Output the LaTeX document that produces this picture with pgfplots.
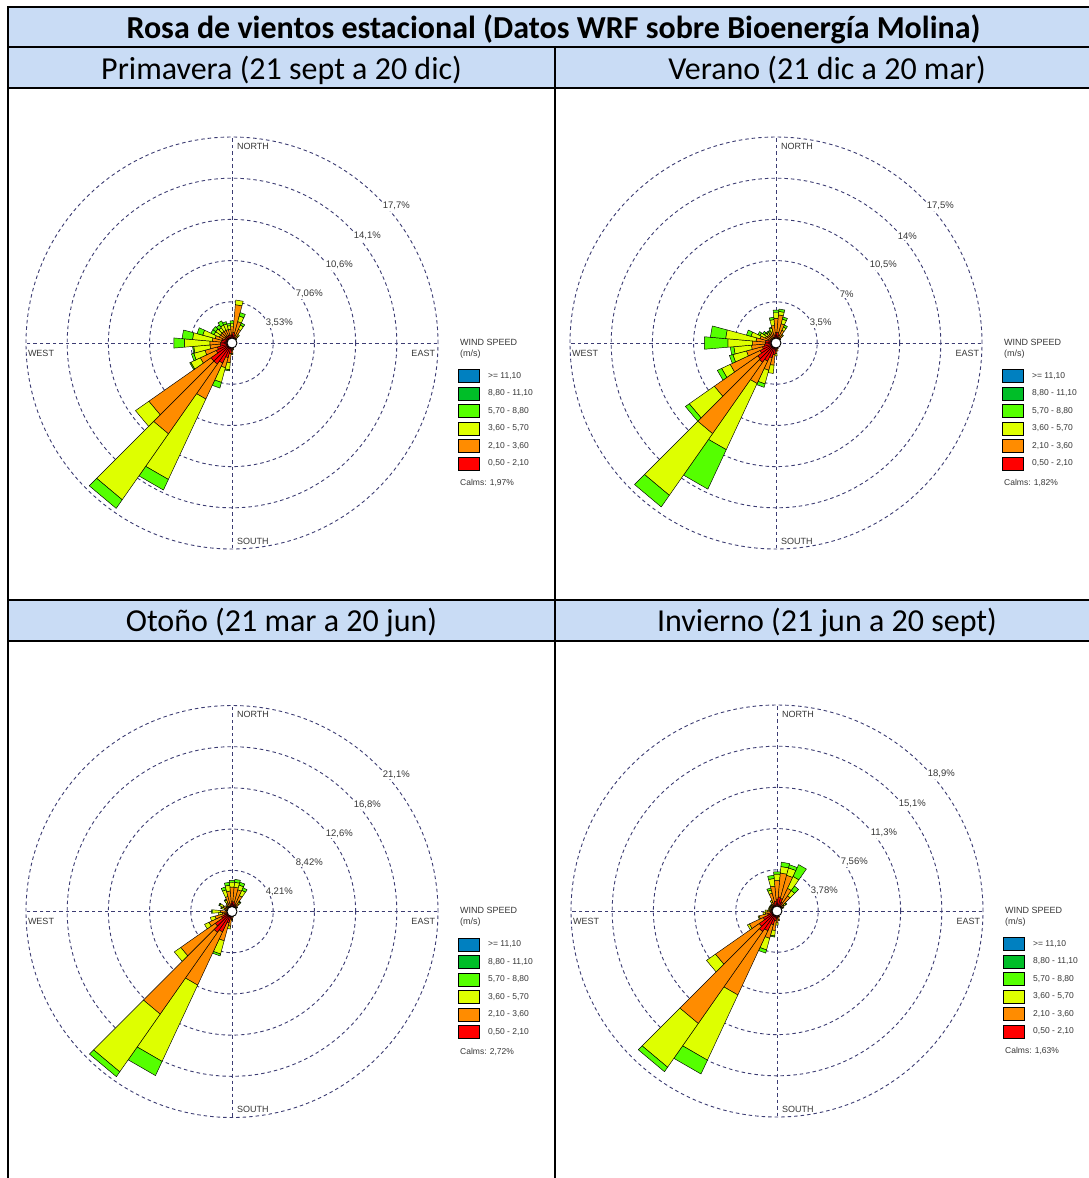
\documentclass[border=0pt]{standalone}
\usepackage{fontspec}
\setmainfont{Carlito}
\newfontfamily\arial{Liberation Sans}
\usepackage{pgfplots}
\usepackage{pgfplotstable}
\pgfplotsset{compat=1.18}
\usepgfplotslibrary{polar}

\definecolor{hdr}{RGB}{201,220,245}
\definecolor{gridc}{RGB}{60,60,115}
\definecolor{cRed}{RGB}{255,0,0}
\definecolor{cOra}{RGB}{255,140,0}
\definecolor{cYel}{RGB}{222,255,0}
\definecolor{cLGr}{RGB}{85,255,0}
\definecolor{cDGr}{RGB}{0,190,40}
\definecolor{cBlu}{RGB}{0,128,192}
\definecolor{txt}{RGB}{55,55,55}

% columns: direction (deg from north), cumulative % at end of 0.5-2.1, 2.1-3.6, 3.6-5.7, 5.7-8.8 m/s
\pgfplotstableread{
d r o y g
0 0.7 1.4 1.7 1.9
10 0.9 3.3 3.7 3.7
20 0.7 1.9 2.4 2.7
30 0.5 1.3 1.7 1.9
40 0.3 0.7 0.9 0.9
50 0.3 0.4 0.5 0.5
60 0.3 0.4 0.4 0.4
70 0.3 0.35 0.35 0.35
80 0.3 0.35 0.35 0.35
90 0.3 0.35 0.35 0.35
100 0.3 0.35 0.35 0.35
110 0.3 0.35 0.35 0.35
120 0.3 0.35 0.35 0.35
130 0.3 0.35 0.35 0.35
140 0.3 0.35 0.35 0.35
150 0.3 0.35 0.35 0.35
160 0.3 0.4 0.4 0.4
170 0.3 0.5 0.6 0.6
180 0.5 0.9 1.0 1.0
190 0.9 1.7 2.3 2.4
200 1.3 2.2 3.5 4.0
210 1.9 5.3 12.9 13.9
220 2.2 9.5 16.4 17.3
230 2.2 8.7 10.1 10.1
240 1.5 3.0 3.9 4.0
250 1.3 2.4 3.4 3.6
260 1.0 1.9 3.3 3.4
270 1.0 1.9 4.1 5.0
280 0.9 1.7 3.4 4.3
290 0.9 1.5 2.6 3.1
300 0.7 1.2 1.7 2.0
310 0.7 1.2 1.7 2.0
320 0.7 1.2 1.6 1.9
330 0.7 1.2 1.7 2.1
340 0.7 1.2 1.7 1.9
350 0.7 1.2 1.5 1.7
}\tabA

\pgfplotstableread{
d r o y g
0 0.9 2.1 2.6 2.8
10 0.9 2.4 2.7 2.9
20 0.7 1.7 2.1 2.3
30 0.5 1.2 1.5 1.7
40 0.4 0.8 0.9 0.9
50 0.3 0.4 0.5 0.5
60 0.3 0.35 0.35 0.35
70 0.3 0.35 0.35 0.35
80 0.3 0.35 0.35 0.35
90 0.3 0.35 0.35 0.35
100 0.3 0.35 0.35 0.35
110 0.3 0.35 0.35 0.35
120 0.3 0.35 0.35 0.35
130 0.3 0.35 0.35 0.35
140 0.3 0.35 0.35 0.35
150 0.3 0.35 0.35 0.35
160 0.3 0.5 0.5 0.5
170 0.4 0.7 0.7 0.7
180 0.5 0.9 1.1 1.1
190 1.0 1.9 2.6 2.6
200 1.3 2.4 3.6 3.9
210 1.7 3.8 10.0 13.7
220 2.0 9.4 15.8 17.0
230 1.9 6.4 9.0 9.4
240 1.5 4.3 5.1 5.5
250 1.2 2.6 3.8 4.1
260 1.0 2.1 3.6 3.9
270 0.9 2.0 4.1 6.1
280 0.9 1.7 4.3 5.6
290 0.7 1.4 2.2 2.6
300 0.5 1.0 1.5 1.7
310 0.4 0.9 1.2 1.4
320 0.4 0.9 1.1 1.2
330 0.4 0.9 1.1 1.2
340 0.5 1.0 1.3 1.4
350 0.7 1.5 2.0 2.2
}\tabB

\pgfplotstableread{
d r o y g
0 1.0 2.5 3.0 3.2
10 1.0 2.5 3.0 3.3
20 0.8 2.3 2.8 3.1
30 0.7 1.8 2.4 2.7
40 0.5 1.0 1.2 1.3
50 0.4 0.6 0.7 0.7
60 0.3 0.4 0.4 0.4
70 0.3 0.4 0.4 0.4
80 0.3 0.4 0.4 0.4
90 0.3 0.4 0.4 0.4
100 0.3 0.4 0.4 0.4
110 0.3 0.4 0.4 0.4
120 0.3 0.4 0.4 0.4
130 0.3 0.4 0.4 0.4
140 0.3 0.4 0.4 0.4
150 0.3 0.4 0.4 0.4
160 0.3 0.4 0.4 0.4
170 0.4 0.6 0.6 0.6
180 0.5 0.8 0.9 0.9
190 0.8 1.5 1.8 1.8
200 1.2 3.1 4.5 4.7
210 2.3 8.3 16.9 18.5
220 2.6 12.8 20.0 20.6
230 2.1 6.4 7.2 7.2
240 1.2 2.6 3.1 3.1
250 0.8 1.8 2.3 2.3
260 0.5 1.0 1.4 1.4
270 0.5 1.2 2.0 2.1
280 0.4 0.6 0.7 0.7
290 0.4 0.8 1.1 1.2
300 0.5 1.0 1.4 1.5
310 0.4 0.7 0.8 0.8
320 0.4 0.7 0.9 0.9
330 0.5 1.0 1.3 1.4
340 0.6 1.6 2.3 2.6
350 0.8 2.1 2.7 3.0
}\tabC

\pgfplotstableread{
d r o y g
0 1.1 2.8 3.4 3.6
10 1.3 3.5 4.1 4.5
20 1.2 3.4 4.1 4.4
30 0.9 2.3 3.5 4.7
40 0.6 1.7 2.3 2.8
50 0.5 0.8 1.0 1.1
60 0.4 0.6 0.7 0.7
70 0.3 0.4 0.4 0.4
80 0.3 0.4 0.4 0.4
90 0.3 0.4 0.4 0.4
100 0.3 0.4 0.4 0.4
110 0.3 0.4 0.4 0.4
120 0.3 0.4 0.4 0.4
130 0.3 0.4 0.4 0.4
140 0.3 0.4 0.4 0.4
150 0.3 0.4 0.4 0.4
160 0.4 0.6 0.6 0.6
170 0.5 0.8 0.9 0.9
180 0.6 1.1 1.3 1.3
190 0.9 1.8 2.3 2.4
200 1.3 2.6 3.7 4.0
210 2.0 8.5 15.1 16.5
220 2.3 12.6 17.5 18.0
230 2.0 6.9 7.9 7.9
240 1.4 2.8 3.0 3.0
250 0.9 1.7 1.8 1.8
260 0.6 1.1 1.3 1.3
270 0.6 0.9 1.1 1.1
280 0.5 0.7 0.8 0.8
290 0.5 0.7 0.8 0.8
300 0.5 0.7 0.8 0.8
310 0.5 0.7 0.8 0.8
320 0.5 0.7 0.8 0.8
330 0.6 0.9 1.1 1.1
340 0.7 1.7 2.0 2.2
350 0.9 2.3 3.0 3.3
}\tabD

\pgfplotsset{
  rose/.style={
    scale only axis, width=412pt, height=412pt,
    anchor=origin, clip=false,
    ymin=0,
    xtick={0,90,180,270},
    xticklabels={}, yticklabels={},
    major tick length=0pt,
    grid=major,
    major grid style={gridc, line width=0.9pt, dash pattern=on 3.5pt off 3pt},
    axis line style={gridc, line width=0.9pt, dash pattern=on 3.5pt off 3pt},
  },
  wedge/.style={draw=black, line width=0.45pt, forget plot, line join=round},
}

\newcommand\wseg[3]{%
  \pgfmathtruncatemacro\wok{((#2)-(#1))>0.0001}%
  \ifnum\wok=1
    \edef\wtmp{\noexpand\addplot[wedge,fill=#3] coordinates {(\wA,#1) (\wA,#2) (\wB,#2) (\wB,#1) (\wA,#1)};}%
    \wtmp
  \fi}

\newcommand\drawrose[1]{%
  \pgfplotsforeachungrouped \wI in {0,...,35}{%
    \pgfplotstablegetelem{\wI}{d}\of#1\let\wD\pgfplotsretval
    \pgfplotstablegetelem{\wI}{r}\of#1\let\wR\pgfplotsretval
    \pgfplotstablegetelem{\wI}{o}\of#1\let\wO\pgfplotsretval
    \pgfplotstablegetelem{\wI}{y}\of#1\let\wY\pgfplotsretval
    \pgfplotstablegetelem{\wI}{g}\of#1\let\wG\pgfplotsretval
    \pgfmathsetmacro\wA{90-\wD-5}%
    \pgfmathsetmacro\wB{90-\wD+5}%
    \wseg{0}{\wR}{cRed}%
    \wseg{\wR}{\wO}{cOra}%
    \wseg{\wO}{\wY}{cYel}%
    \wseg{\wY}{\wG}{cLGr}%
  }%
  \addplot[only marks, mark=*, mark size=5pt, mark options={fill=white,draw=black,line width=0.9pt}, forget plot] coordinates {(0,0)};
}

\tikzset{
  lab/.style={font=\arial\fontsize{9}{10}\selectfont, text=txt, inner sep=0.8pt, fill=white},
  pct/.style={font=\arial\fontsize{9.5}{10}\selectfont, text=txt, inner sep=0.6pt, fill=white, anchor=west},
  leg/.style={font=\arial\fontsize{8.5}{10}\selectfont, text=txt, inner sep=0pt, anchor=west},
}

% decorations of one panel: #1,#2 centre (px), #3-#7 ring labels, #8 calms
\newcommand\panelnotes[8]{%
  \begin{scope}[shift={(#1pt,-#2pt)}, x=1pt, y=-1pt]
    \node[lab, anchor=west] at (4,-197) {NORTH};
    \node[lab, anchor=west] at (4,198) {SOUTH};
    \node[lab, anchor=east] at (204,10) {EAST};
    \node[lab, anchor=west] at (-205,10) {WEST};
    \node[pct] at (33,-20) {#3};
    \node[pct] at (63,-49) {#4};
    \node[pct] at (93,-78) {#5};
    \node[pct] at (121,-107) {#6};
    \node[pct] at (150,-137) {#7};
    \node[leg, font=\arial\fontsize{9}{10}\selectfont] at (228,-1) {WIND SPEED};
    \node[leg, font=\arial\fontsize{9}{10}\selectfont] at (228,11) {(m/s)};
    \filldraw[fill=cBlu, draw=black, line width=0.4pt] (226,26.5) rectangle (247,39.5);
    \filldraw[fill=cDGr, draw=black, line width=0.4pt] (226,44) rectangle (247,57);
    \filldraw[fill=cLGr, draw=black, line width=0.4pt] (226,61.5) rectangle (247,74.5);
    \filldraw[fill=cYel, draw=black, line width=0.4pt] (226,79) rectangle (247,92);
    \filldraw[fill=cOra, draw=black, line width=0.4pt] (226,96.5) rectangle (247,109.5);
    \filldraw[fill=cRed, draw=black, line width=0.4pt] (226,114) rectangle (247,127);
    \node[leg] at (256,33) {>= 11,10};
    \node[leg] at (256,50.5) {8,80 - 11,10};
    \node[leg] at (256,68) {5,70 - 8,80};
    \node[leg] at (256,85.5) {3,60 - 5,70};
    \node[leg] at (256,103) {2,10 - 3,60};
    \node[leg] at (256,120.5) {0,50 - 2,10};
    \node[leg] at (228,140) {Calms: #8};
  \end{scope}}

\begin{document}
\begin{tikzpicture}
\path[use as bounding box] (0pt,0pt) rectangle (1089pt,-1178pt);
% table
\begin{scope}[x=1pt, y=-1pt]
  \fill[white] (0,0) rectangle (1089,1178);
  \fill[hdr] (8,7) rectangle (1099,88);
  \fill[hdr] (8,600) rectangle (1099,640);
  \draw[black, line width=2pt] (8,7) -- (1099,7);
  \draw[black, line width=2pt] (8,47) -- (1099,47);
  \draw[black, line width=2pt] (8,88) -- (1099,88);
  \draw[black, line width=2pt] (8,600) -- (1099,600);
  \draw[black, line width=2pt] (8,640.5) -- (1099,640.5);
  \draw[black, line width=2pt] (8,6) -- (8,1190);
  \draw[black, line width=2pt] (555,47) -- (555,1190);
  \node[anchor=base] at (553.5,38) {\fontsize{32}{36}\selectfont\bfseries Rosa de vientos estacional (Datos WRF sobre Bioenergía Molina)};
  \node[anchor=base] at (281.5,79) {\fontsize{32}{36}\selectfont Primavera (21 sept a 20 dic)};
  \node[anchor=base] at (827,79) {\fontsize{32}{36}\selectfont Verano (21 dic a 20 mar)};
  \node[anchor=base] at (281.5,631) {\fontsize{32}{36}\selectfont Otoño (21 mar a 20 jun)};
  \node[anchor=base] at (827,631) {\fontsize{32}{36}\selectfont Invierno (21 jun a 20 sept)};
\end{scope}

\begin{polaraxis}[rose, at={(232pt,-343pt)}, ymax=17.65, ytick={3.53,7.06,10.59,14.12}]
\drawrose{\tabA}
\end{polaraxis}
\begin{polaraxis}[rose, at={(776pt,-343pt)}, ymax=17.5, ytick={3.5,7,10.5,14}]
\drawrose{\tabB}
\end{polaraxis}
\begin{polaraxis}[rose, at={(232pt,-911.5pt)}, ymax=21.05, ytick={4.21,8.42,12.63,16.84}]
\drawrose{\tabC}
\end{polaraxis}
\begin{polaraxis}[rose, at={(777pt,-911pt)}, ymax=18.9, ytick={3.78,7.56,11.34,15.12}]
\drawrose{\tabD}
\end{polaraxis}

\panelnotes{232}{343}{3,53\%}{7,06\%}{10,6\%}{14,1\%}{17,7\%}{1,97\%}
\panelnotes{776}{343}{3,5\%}{7\%}{10,5\%}{14\%}{17,5\%}{1,82\%}
\panelnotes{232}{911.5}{4,21\%}{8,42\%}{12,6\%}{16,8\%}{21,1\%}{2,72\%}
\panelnotes{777}{911}{3,78\%}{7,56\%}{11,3\%}{15,1\%}{18,9\%}{1,63\%}
\end{tikzpicture}
\end{document}
